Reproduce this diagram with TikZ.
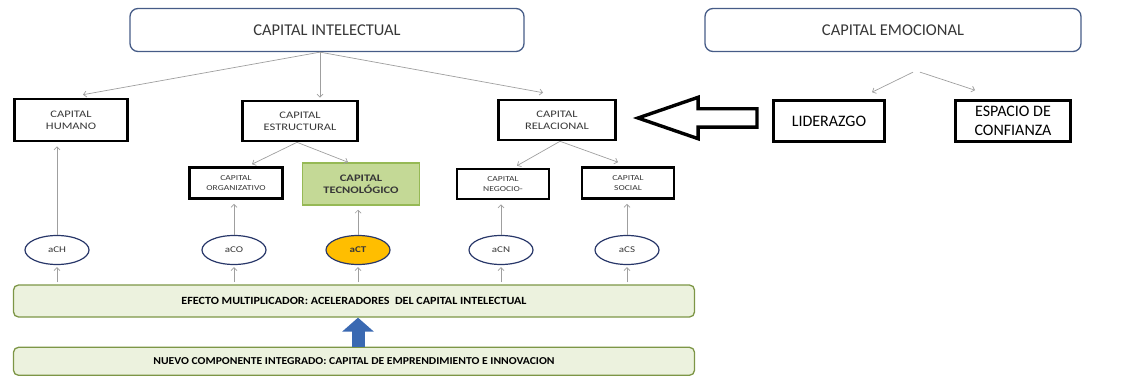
\documentclass[tikz,border=0pt]{standalone}
\usepackage{fontspec}
\setmainfont{Carlito}
\newfontfamily\widefont{Carlito}[FakeStretch=1.25]
\newfontfamily\barfont{Carlito}[FakeStretch=1.1]
\usetikzlibrary{positioning, arrows.meta, shapes.geometric, shapes.arrows, calc}
\definecolor{icblue}{RGB}{70,92,135}
\definecolor{boxtext}{RGB}{55,55,55}
\definecolor{tecfill}{RGB}{196,217,150}
\definecolor{tecdraw}{RGB}{150,185,85}
\definecolor{barfill}{RGB}{236,242,222}
\definecolor{bardraw}{RGB}{125,150,70}
\definecolor{acyellow}{RGB}{255,190,0}
\definecolor{ovalblue}{RGB}{40,55,105}
\definecolor{pushblue}{RGB}{58,105,178}

\begin{document}
\begin{tikzpicture}[
            x=1pt, y=-1pt,
            topbox/.style={draw=icblue, line width=1.3pt, rounded corners=8pt, minimum width=394pt,
                           minimum height=43pt, font=\fontsize{16.5}{18}\selectfont, text=boxtext},
            capbox/.style={draw=black, line width=2.6pt, align=center, inner sep=2pt, text=boxtext,
                           font=\widefont\fontsize{10}{12}\selectfont},
            subbox/.style={capbox, font=\widefont\fontsize{7.6}{9.5}\selectfont},
            bigbox/.style={capbox, font=\fontsize{16}{19}\selectfont, text=black},
            acc/.style={ellipse, draw=ovalblue, line width=1.2pt, minimum width=64pt, minimum height=29pt,
                        inner sep=0pt, font=\widefont\fontsize{8.8}{9}\selectfont, text=boxtext},
            bar/.style={draw=bardraw, fill=barfill, line width=1.3pt, rounded corners=5pt, minimum width=681pt,
                        inner sep=2pt, font=\barfont\bfseries\fontsize{11}{12}\selectfont},
            arr/.style={-{Straight Barb[length=3pt, width=6pt]}, gray!75, line width=0.7pt}
        ]
            \useasboundingbox (0,0) rectangle (1127,377);

            % upper level
            \node[topbox] (ic) at (327,30) {CAPITAL INTELECTUAL};
            \node[topbox, minimum width=376pt] (emo) at (893,30) {CAPITAL EMOCIONAL};

            \node[capbox, minimum width=113pt, minimum height=42pt] (hum) at (71,120) {CAPITAL\\HUMANO};
            \node[capbox, minimum width=115pt, minimum height=40pt] (est) at (300,121) {CAPITAL\\ESTRUCTURAL};
            \node[capbox, minimum width=117pt, minimum height=40pt] (rel) at (557,120) {CAPITAL\\RELACIONAL};
            \node[bigbox, minimum width=111pt, minimum height=41pt] (lid) at (829,121) {LIDERAZGO};
            \node[bigbox, minimum width=115pt, minimum height=41pt] (esp) at (1013,121) {ESPACIO DE\\CONFIANZA};

            % second level
            \node[subbox, minimum width=93pt, minimum height=31pt] (org) at (236,183) {CAPITAL\\ORGANIZATIVO};
            \node[capbox, draw=tecdraw, fill=tecfill, line width=1.5pt, minimum width=117pt, minimum height=42pt,
                  font=\widefont\bfseries\fontsize{10}{12}\selectfont] (tec) at (361,184) {CAPITAL\\TECNOLÓGICO};
            \node[subbox, minimum width=92pt, minimum height=30pt] (neg) at (503,184) {CAPITAL\\NEGOCIO-};
            \node[subbox, minimum width=92pt, minimum height=31pt] (soc) at (628,183) {CAPITAL\\SOCIAL};

            % accelerators
            \node[acc] (ach) at (57,250) {aCH};
            \node[acc] (aco) at (234,250) {aCO};
            \node[acc, fill=acyellow, font=\widefont\bfseries\fontsize{8.8}{9}\selectfont] (act) at (358,250) {aCT};
            \node[acc] (acn) at (501,250) {aCN};
            \node[acc] (acs) at (627,250) {aCS};

            \node[bar, minimum height=32pt] (efecto) at (354,301) {EFECTO MULTIPLICADOR: ACELERADORES\ \ DEL CAPITAL INTELECTUAL};
            \node[bar, minimum height=28pt, font=\barfont\bfseries\fontsize{10.6}{12}\selectfont, below=29pt of efecto]
                (nuevo) {NUEVO COMPONENTE INTEGRADO: CAPITAL DE EMPRENDIMIENTO E INNOVACION};

            % connectors
            \draw[arr] ($(ic.south)+(-7,0)$) -- ($(hum.north)+(12,-3)$);
            \draw[arr] ($(ic.south)+(-7,0)$) -- ($(est.north)+(20,-2)$);
            \draw[arr] ($(ic.south)+(-7,0)$) -- ($(rel.north)+(-14,-6)$);

            \draw[arr] ($(est.south)+(-3,0)$) -- ($(org.north)+(16,-2)$);
            \draw[arr] ($(est.south)+(-3,0)$) -- ($(tec.north)+(-13,0)$);
            \draw[arr] ($(rel.south)+(3,0)$) -- ($(neg.north)+(14,-2)$);
            \draw[arr] ($(rel.south)+(3,0)$) -- ($(soc.north)+(-10,-4)$);

            \coordinate (emo-l) at ($(emo.south)+(20,20)$);
            \coordinate (emo-r) at ($(emo.south)+(27,20)$);
            \draw[arr] (emo-l) -- ($(lid.north)+(43,-7)$);
            \draw[arr] (emo-r) -- ($(esp.north)+(-38,-9)$);

            \foreach \a/\b in {ach/hum, aco/org, act/tec, acn/neg, acs/soc}{
                \draw[arr, shorten >=4pt] (\a.north) -- (\a.north |- \b.south);
                \draw[arr, shorten <=2pt, shorten >=2pt] (\a.south |- efecto.north) -- (\a.south);
            }

            % block arrows
            \node[single arrow, draw=black, line width=3.4pt, shape border rotate=180, minimum height=119pt,
                  minimum width=38pt, inner sep=7.5pt, single arrow head extend=11.5pt, single arrow tip angle=38,
                  anchor=tip] (push) at ($(rel.east)+(16,-2)$) {};
            \draw[pushblue, line width=13pt, -{Triangle[length=14pt, width=31pt]}] (act |- nuevo.north) -- (act |- efecto.south);
        \end{tikzpicture}
\end{document}
